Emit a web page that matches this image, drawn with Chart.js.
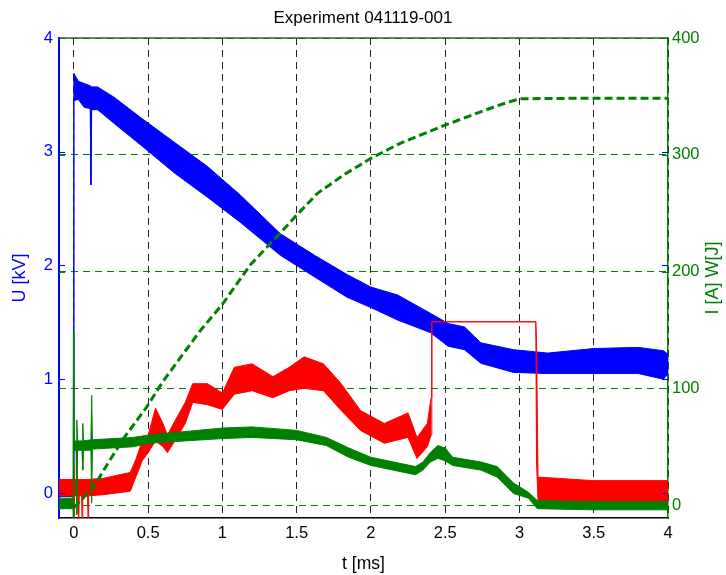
<!DOCTYPE html>
<html>
<head>
<meta charset="utf-8">
<title>Experiment 041119-001</title>
<script src="https://cdn.jsdelivr.net/npm/chart.js@4.4.0/dist/chart.umd.min.js"></script>
<style>
  html, body { margin: 0; padding: 0; background: #fff; }
  #wrap { width: 726px; height: 575px; }
</style>
</head>
<body>
<div id="wrap"><canvas id="myChart" width="726" height="575"></canvas></div>
<script>
const chartTitle = 'Experiment 041119-001';
const xTitle = 't [ms]';
const uTitle = 'U [kV]';
const iTitle = 'I [A] W[J]';

// TICKS
const xTicks = [0, 0.5, 1, 1.5, 2, 2.5, 3, 3.5, 4];
const xTickLabels = ['0', '0.5', '1', '1.5', '2', '2.5', '3', '3.5', '4'];
const uTicks = [0, 1, 2, 3, 4];
const uTickLabels = ['0', '1', '2', '3', '4'];
const iTicks = [0, 100, 200, 300, 400];
const iTickLabels = ['0', '100', '200', '300', '400'];

// U [kV] (blue), noisy trace given as lower / upper edge of the band
const uTime = [-0.1, -0.002, 0, 0.03, 0.07, 0.11, 0.115, 0.12, 0.16, 0.27, 0.45, 0.68, 0.9, 1.12, 1.39, 1.62, 1.84, 2.0, 2.18, 2.4, 2.52, 2.63, 2.74, 2.96, 3.19, 3.5, 3.8, 3.97, 4.0];
const uLow = [-0.03, -0.03, 3.45, 3.46, 3.39, 3.38, 2.71, 3.37, 3.37, 3.25, 3.06, 2.81, 2.60, 2.38, 2.09, 1.90, 1.72, 1.63, 1.52, 1.41, 1.29, 1.26, 1.14, 1.06, 1.05, 1.05, 1.05, 1.0, 1.05];
const uHigh = [0.03, 0.03, 3.69, 3.62, 3.60, 3.58, 3.58, 3.57, 3.57, 3.48, 3.30, 3.08, 2.87, 2.62, 2.28, 2.09, 1.92, 1.81, 1.74, 1.58, 1.49, 1.46, 1.32, 1.26, 1.23, 1.27, 1.28, 1.25, 1.22];

// red current trace [A]
const rTime = [-0.1, -0.004, 0, 0.004, 0.028, 0.032, 0.036, 0.052, 0.056, 0.06, 0.092, 0.096, 0.1, 0.2, 0.38, 0.42, 0.46, 0.5, 0.55, 0.6, 0.63, 0.68, 0.75, 0.8, 0.9, 1.0, 1.08, 1.2, 1.34, 1.45, 1.55, 1.68, 1.8, 1.93, 2.09, 2.25, 2.31, 2.38, 2.405, 2.41, 3.11, 3.115, 3.125, 3.5, 4.0];
const rLow = [8, 8, -15, 8, 8, -15, 8, 8, -15, 8, 8, -15, 8, 9, 12, 25, 38, 45, 55, 50, 45, 55, 70, 88, 86, 82, 95, 98, 92, 98, 100, 98, 81, 64, 53, 58, 40, 50, 60, 157, 157, 36, 4, 3, 3];
const rHigh = [22, 22, 34, 22, 22, 22, 22, 22, 22, 22, 22, 22, 22, 23, 28, 40, 55, 60, 83, 70, 60, 72, 88, 104, 104, 96, 118, 121, 110, 118, 127, 121, 104, 81, 70, 79, 58, 70, 92, 157, 157, 139, 24, 21, 21];

// green current trace [A]
const gTime = [-0.1, -0.006, -0.003, 0, 0.015, 0.02, 0.025, 0.055, 0.06, 0.065, 0.115, 0.12, 0.125, 0.4, 0.5, 1.0, 1.2, 1.5, 1.7, 1.85, 2.0, 2.3, 2.35, 2.4, 2.45, 2.5, 2.55, 2.74, 2.85, 2.96, 3.06, 3.12, 3.5, 4.0];
const gLow = [-3, -3, -15, 47, 47, -8, 47, 47, 30, 47, 47, 2, 48, 50, 53, 57, 58, 56, 51, 41, 34, 26, 30, 37, 40, 38, 34, 30, 24, 10, 6, -3, -4, -4];
const gHigh = [6, 6, 150, 55, 55, 73, 55, 55, 70, 55, 56, 94, 56, 58, 60, 66, 67, 64, 58, 49, 41, 33, 37, 45, 51, 49, 41, 37, 33, 19, 11, 4, 3, 3];

// energy W [J] (green dashed)
const wTime = [0, 0.13, 0.24, 0.34, 0.49, 0.6, 0.75, 0.855, 1.0, 1.19, 1.39, 1.49, 1.64, 1.82, 2.0, 2.2, 2.49, 2.85, 3.0, 3.5, 4.0];
const wValue = [-2, 15, 38, 58, 84, 106, 132, 150, 172, 206, 233, 247, 267, 283, 297, 310, 325, 342, 348, 348.5, 348.5];

const BLUE = '#0000ff';
const RED = '#ff0000';
const GREEN = '#008000';
const FONT = '"Liberation Sans", Arial, Helvetica, sans-serif';

const toPoints = (times, values) => times.map((t, i) => ({x: t, y: values[i]}));

const band = (times, low, high, color, axis, order) => [
    {data: toPoints(times, low), yAxisID: axis, borderColor: color, borderWidth: 1, fill: false, order: order},
    {data: toPoints(times, high), yAxisID: axis, borderColor: color, borderWidth: 1, backgroundColor: color, fill: '-1', order: order}
];

// inward tick marks, top frame line and the right axis title (reads bottom to top like matlab)
const frame = {
    id: 'frame',
    afterDraw(chart) {
        const {ctx, chartArea: a, scales} = chart;
        ctx.save();
        ctx.lineWidth = 1;
        ctx.strokeStyle = BLUE;
        uTicks.forEach(v => {
            const y = Math.round(scales.yU.getPixelForValue(v)) + 0.5;
            ctx.beginPath(); ctx.moveTo(a.left, y); ctx.lineTo(a.left + 6, y); ctx.stroke();
            ctx.beginPath(); ctx.moveTo(a.right - 6, y); ctx.lineTo(a.right, y); ctx.stroke();
        });
        ctx.strokeStyle = GREEN;
        iTicks.forEach(v => {
            const y = Math.round(scales.yI.getPixelForValue(v)) + 0.5;
            ctx.beginPath(); ctx.moveTo(a.left, y); ctx.lineTo(a.left + 6, y); ctx.stroke();
            ctx.beginPath(); ctx.moveTo(a.right - 6, y); ctx.lineTo(a.right, y); ctx.stroke();
        });
        ctx.strokeStyle = '#2f5f2f';
        ctx.lineWidth = 1.5;
        ctx.beginPath(); ctx.moveTo(a.left, a.top); ctx.lineTo(a.right, a.top); ctx.stroke();

        ctx.translate(713, (a.top + a.bottom) / 2);
        ctx.rotate(-Math.PI / 2);
        ctx.fillStyle = GREEN;
        ctx.font = '18px ' + FONT;
        ctx.textAlign = 'center';
        ctx.textBaseline = 'middle';
        ctx.fillText(iTitle, 0, 0);
        ctx.restore();
    }
};

const ctx = document.getElementById('myChart');

const myChart = new Chart(ctx, {
    type: 'line',
    data: {
        datasets: [
            ...band(uTime, uLow, uHigh, BLUE, 'yU', 4),
            ...band(rTime, rLow, rHigh, RED, 'yI', 3),
            ...band(gTime, gLow, gHigh, GREEN, 'yI', 2),
            {
                data: toPoints(wTime, wValue),
                yAxisID: 'yI',
                borderColor: GREEN,
                borderWidth: 3,
                borderDash: [8, 4],
                fill: false,
                order: 1
            }
        ]
    },
    options: {
        responsive: false,
        devicePixelRatio: 1,
        animation: false,
        elements: {
            point: {radius: 0, hoverRadius: 0},
            line: {tension: 0}
        },
        layout: {padding: 0},
        plugins: {
            legend: {display: false},
            tooltip: {enabled: false},
            title: {
                display: true,
                text: chartTitle,
                color: '#000',
                font: {family: FONT, size: 17, weight: 'normal', lineHeight: 1},
                padding: {top: 10, bottom: 11}
            }
        },
        scales: {
            x: {
                type: 'linear',
                position: 'bottom',
                min: -0.1,
                max: 4,
                afterBuildTicks: (scale) => { scale.ticks = xTicks.map(v => ({value: v})); },
                afterFit: (scale) => { scale.height = 57; },
                ticks: {
                    color: '#000',
                    padding: 6,
                    maxRotation: 0,
                    font: {family: FONT, size: 16.5},
                    callback: (value, index) => xTickLabels[index]
                },
                grid: {color: '#222', lineWidth: 1, drawTicks: false},
                border: {color: '#000', width: 1.5, dash: [7, 5]},
                title: {
                    display: true,
                    text: xTitle,
                    color: '#000',
                    font: {family: FONT, size: 17.5},
                    padding: {top: 5, bottom: 0}
                }
            },
            yU: {
                type: 'linear',
                position: 'left',
                min: -0.22,
                max: 4,
                afterBuildTicks: (scale) => { scale.ticks = uTicks.map(v => ({value: v})); },
                afterFit: (scale) => { scale.width = 59; },
                ticks: {
                    color: BLUE,
                    padding: 6,
                    font: {family: FONT, size: 16.5},
                    callback: (value, index) => uTickLabels[index]
                },
                grid: {drawOnChartArea: false, drawTicks: false},
                border: {color: BLUE, width: 2},
                title: {
                    display: true,
                    text: uTitle,
                    color: BLUE,
                    font: {family: FONT, size: 18},
                    padding: {top: 9, bottom: 0}
                }
            },
            yI: {
                type: 'linear',
                position: 'right',
                min: -11,
                max: 400,
                afterBuildTicks: (scale) => { scale.ticks = iTicks.map(v => ({value: v})); },
                afterFit: (scale) => { scale.width = 58; },
                ticks: {
                    color: GREEN,
                    padding: 4,
                    font: {family: FONT, size: 16.5},
                    callback: (value, index) => iTickLabels[index]
                },
                grid: {color: GREEN, lineWidth: 1, drawTicks: false},
                border: {color: GREEN, width: 1.5, dash: [7, 5]},
                title: {display: false}
            }
        }
    },
    plugins: [frame]
});
</script>
</body>
</html>
